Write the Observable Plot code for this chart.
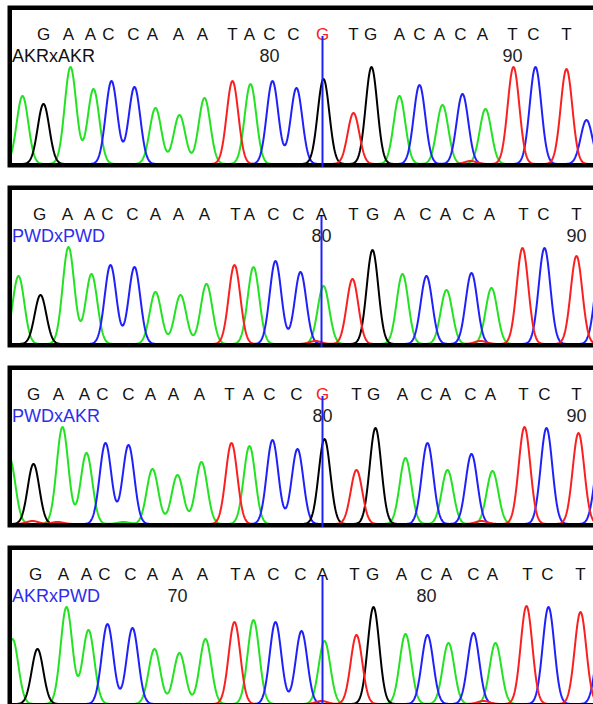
<!DOCTYPE html>
<html>
<head>
<meta charset="utf-8">
<script src="https://cdn.jsdelivr.net/npm/d3@7"></script>
<script src="https://cdn.jsdelivr.net/npm/@observablehq/plot@0.6"></script>
<style>
  html, body { margin: 0; padding: 0; background: #fff; overflow: hidden; }
  #chart svg { display: block; }
</style>
</head>
<body>
<div id="chart"></div>
<script>
// Sanger traces of the same amplicon sequenced in four crosses.
const crosses = ["AKRxAKR", "PWDxPWD", "PWDxAKR", "AKRxPWD"];
const firstBaseNumber = [70, 68, 68, 64];   // number of the first called base
const focusIndex = 12;                      // the SNP within each call string
const focusEdited = [true, false, true, false];

// Base calls and the scan where each call sits
const calls = [
  "GAACCAAATACCGTGACACATCT",
  "GAACCAAATACCATGACACATCT",
  "GAACCAAATACCGTGACACATCT",
  "GAACCAAATACCATGACACATCT"
];
const callScans = [
  [43, 68, 90, 108, 133, 152, 178, 202, 232, 249, 269, 293, 322, 353, 370, 399, 419, 439, 460, 482, 512, 533, 566],
  [39, 67, 89, 107, 132, 155, 178, 204, 235, 249, 273, 298, 321, 353, 372, 399, 425, 445, 468, 489, 523, 543, 576],
  [33, 58, 84, 102, 128, 150, 173, 199, 229, 248, 269, 296, 322, 356, 373, 402, 426, 445, 470, 490, 523, 544, 576],
  [35, 63, 86, 104, 130, 152, 177, 202, 235, 249, 273, 300, 322, 354, 372, 401, 426, 446, 473, 492, 527, 547, 580]
];

// Trace peaks: dye channel, scan position and signal height
const peakBases = [
  "AGAACCAAATACCGTGACACTATCTC",
  "AGAACCAAATACCTATGACACTATCTC",
  "ATGTAACACAAATACCGTGACACTATCTC",
  "AGAACCAAATACCTATGACACTATCTC"
];
const peakScans = [
  [22, 43, 70, 93, 111, 134, 155, 179, 204, 232, 250, 272, 296, 323, 353, 371, 399, 419, 442, 462, 470, 485, 513, 535, 566, 586],
  [18, 40, 68, 91, 110, 134, 155, 180, 206, 234, 253, 275, 300, 315, 323, 352, 372, 402, 426, 446, 471, 480, 491, 522, 544, 576, 600],
  [9, 32, 33, 57, 62, 86, 105, 123, 128, 152, 177, 201, 231, 249, 272, 297, 324, 356, 375, 405, 427, 447, 471, 481, 492, 524, 546, 578, 600],
  [12, 37, 66, 88, 107, 132, 154, 179, 205, 234, 253, 275, 301, 321, 324, 356, 373, 405, 427, 448, 473, 483, 495, 526, 548, 580, 601]
];
const peakHeights = [
  [680, 600, 970, 750, 830, 770, 560, 490, 660, 830, 800, 830, 760, 850, 510, 970, 680, 790, 590, 700, 30, 550, 970, 970, 950, 440],
  [680, 490, 970, 700, 790, 770, 520, 490, 600, 790, 770, 830, 720, 30, 580, 650, 940, 700, 680, 540, 710, 30, 560, 960, 960, 880, 800],
  [660, 30, 600, 20, 970, 710, 810, 20, 790, 550, 490, 620, 810, 780, 840, 750, 850, 540, 960, 660, 810, 540, 700, 30, 530, 970, 960, 910, 750],
  [650, 550, 970, 740, 800, 760, 550, 510, 650, 820, 840, 820, 730, 30, 630, 690, 970, 700, 690, 610, 710, 30, 610, 980, 970, 920, 700]
];

const channels = ["A", "C", "G", "T"];
const dyeColors = ["#22e222", "#2020fa", "#000000", "#fa2020"];
const labelFill = ["#111111", "#2d2df0", "#2d2df0", "#2d2df0"];
const peakSigma = 5.8;
const labelClear = 110;   // position numbers are hidden where the cross name sits
const font = "'Liberation Sans', Arial, Helvetica, sans-serif";

function traceRows(p) {
  const rows = [];
  for (const base of channels) {
    const idx = d3.range(peakScans[p].length).filter(i => peakBases[p][i] === base);
    for (let s = -6; s <= 612; s += 0.5) {
      let v = 0;
      for (const i of idx) {
        const d = s - peakScans[p][i];
        v += peakHeights[p][i] * Math.exp(-(d * d) / (2 * peakSigma * peakSigma));
      }
      rows.push({scan: s, signal: v, base});
    }
  }
  return rows;
}

function panel(p) {
  const letters = Array.from(calls[p], (b, i) => ({base: b, scan: callScans[p][i], i}));
  const plain = letters.filter(d => !(d.i === focusIndex && focusEdited[p]));
  const edited = letters.filter(d => d.i === focusIndex && focusEdited[p]);
  const numbers = letters
    .map(d => ({scan: d.scan, n: firstBaseNumber[p] + d.i}))
    .filter(d => d.n % 10 === 0 && d.scan > labelClear);
  const focusScan = callScans[p][focusIndex];

  return Plot.plot({
    width: 593,
    height: 180,
    marginLeft: 9.25,
    marginTop: 7.25,
    marginBottom: 15.25,
    marginRight: -10,
    style: {fontFamily: font, background: "#fff"},
    x: {domain: [0, 593], range: [0, 593], axis: null},
    y: {domain: [0, 1545], range: [163.5, 9], axis: null},
    color: {domain: channels, range: dyeColors},
    marks: [
      Plot.line(traceRows(p), {
        x: "scan", y: "signal", z: "base", stroke: "base",
        strokeWidth: 2, strokeLinejoin: "round", clip: true
      }),
      Plot.frame({stroke: "#000", strokeWidth: 4.5}),
      Plot.text(plain, {
        x: "scan", text: "base", frameAnchor: "top", dy: 19.75,
        fontSize: 17, fill: "#111"
      }),
      Plot.text(edited, {
        x: "scan", text: "base", frameAnchor: "top", dy: 19.75,
        fontSize: 17, fill: "#fa2020"
      }),
      Plot.text([crosses[p]], {
        text: d => d, frameAnchor: "top-left", textAnchor: "start",
        dx: 2.25, dy: 41.25, fontSize: 18, fill: labelFill[p]
      }),
      Plot.text(numbers, {
        x: "scan", text: d => String(d.n), frameAnchor: "top", dy: 41.25,
        fontSize: 18, fill: "#222"
      }),
      Plot.ruleX([focusScan], {
        stroke: "#2020fa", strokeWidth: 2, insetTop: 28.75, insetBottom: -2.25
      })
    ]
  });
}

const chart = document.getElementById("chart");
for (let p = 0; p < crosses.length; ++p) chart.appendChild(panel(p));
</script>
</body>
</html>
